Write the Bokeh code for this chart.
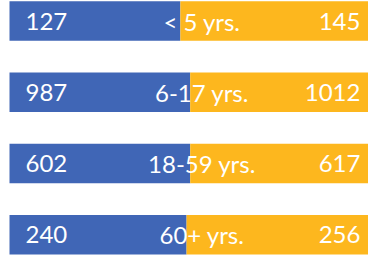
from bokeh.plotting import figure
from bokeh.models import ColumnDataSource, Range1d
from bokeh.core.properties import value
from bokeh.embed import file_html
from bokeh.resources import INLINE

categories = ["< 5 yrs.", "6-17 yrs.", "18-59 yrs.", "60+ yrs."]
left_values = [127, 987, 602, 240]
right_values = [145, 1012, 617, 256]

BLUE = "#4066B6"
GOLD = "#FDB71E"
FONT = "Lato"

rows = list(range(len(categories)))
split = [l / (l + r) for l, r in zip(left_values, right_values)]

src = ColumnDataSource(dict(
    y=rows,
    split=split,
    zero=[0.0] * len(rows),
    one=[1.0] * len(rows),
    cat=categories,
    ltxt=[str(v) for v in left_values],
    rtxt=[str(v) for v in right_values],
    lx=[0.0437] * len(rows),
    rx=[0.959] * len(rows),
    cx=[0.526] * len(rows),
))

p = figure(width=368, height=255, output_backend="svg", toolbar_location=None,
           x_range=Range1d(-0.0246, 0.981), y_range=Range1d(3.293, -0.288),
           min_border=0, outline_line_color=None)
p.axis.visible = False
p.grid.visible = False
p.background_fill_color = "white"
p.border_fill_color = "white"

p.hbar(y="y", left="zero", right="split", height=0.555, source=src,
       fill_color=BLUE, line_color=None)
p.hbar(y="y", left="split", right="one", height=0.555, source=src,
       fill_color=GOLD, line_color=None)

common = dict(y="y", source=src, text_color="white", text_font=value(FONT),
              text_font_size="24px", text_baseline="middle")
p.text(x="lx", text="ltxt", text_align="left", **common)
p.text(x="rx", text="rtxt", text_align="right", **common)
p.text(x="cx", text="cat", text_align="center", **common)

open("out.html", "w").write(file_html(p, INLINE))
